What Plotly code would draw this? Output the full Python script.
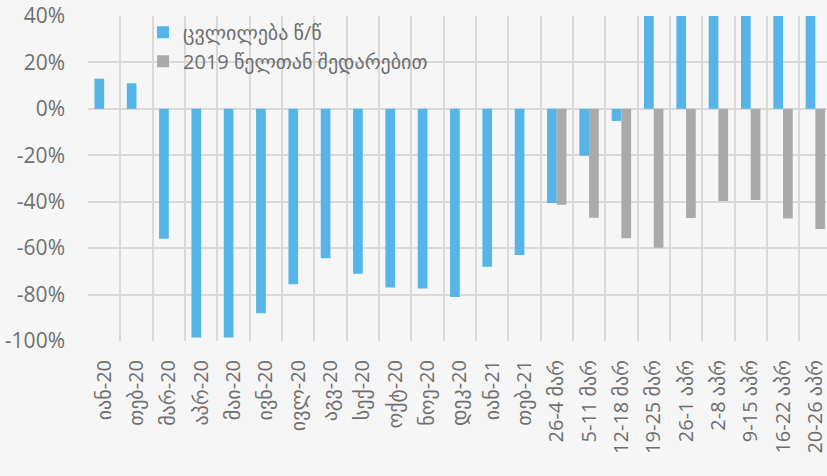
import plotly.graph_objects as go

categories = ["იან-20", "თებ-20", "მარ-20", "აპრ-20", "მაი-20", "ივნ-20", "ივლ-20",
              "აგვ-20", "სექ-20", "ოქტ-20", "ნოე-20", "დეკ-20", "იან-21", "თებ-21",
              "26-4 მარ", "5-11 მარ", "12-18 მარ", "19-25 მარ", "26-1 აპრ", "2-8 აპრ",
              "9-15 აპრ", "16-22 აპრ", "20-26 აპრ"]

change_yoy = [0.13, 0.11, -0.56, -0.985, -0.985, -0.88, -0.756, -0.644, -0.71, -0.77,
              -0.774, -0.81, -0.68, -0.63, -0.406, -0.202, -0.052, 0.95, 1.40, 1.30,
              1.20, 1.10, 1.00]

vs_2019 = [None] * 14 + [-0.413, -0.469, -0.557, -0.598, -0.47, -0.397, -0.393, -0.472, -0.518]

series_names = ["ცვლილება წ/წ", "2019 წელთან შედარებით"]

y_tickvals = [-1.0, -0.8, -0.6, -0.4, -0.2, 0.0, 0.2, 0.4]
y_ticktext = ["-100%", "-80%", "-60%", "-40%", "-20%", "0%", "20%", "40%"]

FONT = "Open Sans, DejaVu Sans, sans-serif"
TXT = "#6F6F6F"

fig = go.Figure()
fig.add_trace(go.Bar(x=categories, y=change_yoy, name=series_names[0],
                     marker=dict(color="#55B5E6", line=dict(width=0))))
fig.add_trace(go.Bar(x=categories, y=vs_2019, name=series_names[1],
                     marker=dict(color="#AAAAAA", line=dict(width=0))))

fig.update_layout(
    width=827, height=476,
    margin=dict(l=88, r=0, t=16, b=135, autoexpand=False),
    paper_bgcolor="#F6F6F6", plot_bgcolor="#F6F6F6",
    barmode="group", bargap=0.4, bargroupgap=0,
    font=dict(family=FONT, color=TXT, size=20),
    legend=dict(x=0.0745, y=1.01, xanchor="left", yanchor="top",
                bgcolor="rgba(0,0,0,0)", font=dict(size=20, color=TXT),
                tracegroupgap=0, itemclick=False),
    showlegend=True,
)
fig.update_xaxes(
    type="category", range=[-0.5, 22.36], tickson="boundaries", automargin=False,
    showgrid=True, gridcolor="#D9D9D9", gridwidth=1.5,
    tickangle=-90, ticks="", ticklabelstandoff=14,
    tickfont=dict(size=20, color=TXT, family=FONT),
    showline=False, zeroline=False,
)
fig.update_yaxes(
    range=[-1.0, 0.4], tickvals=y_tickvals, ticktext=y_ticktext, automargin=False,
    showgrid=True, gridcolor="#D9D9D9", gridwidth=1.5,
    zeroline=False, showline=False, ticks="", ticklabelstandoff=22,
    tickfont=dict(size=21, color=TXT, family=FONT),
)

fig.write_html("out.html", config={"displayModeBar": False},
               post_script="document.body.style.margin='0';document.body.style.overflow='hidden';document.body.style.background='#F6F6F6';")
